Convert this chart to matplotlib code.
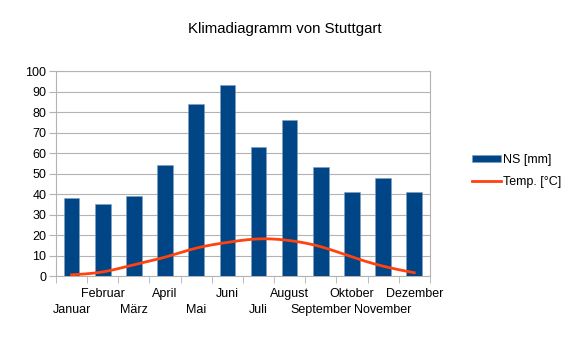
import numpy as np
import matplotlib.pyplot as plt

plt.rcParams['font.family'] = ['Liberation Sans', 'DejaVu Sans']

months = ["Januar", "Februar", "März", "April", "Mai", "Juni",
          "Juli", "August", "September", "Oktober", "November", "Dezember"]
rain = [38, 35, 39, 54, 84, 93, 63, 76, 53, 41, 48, 41]
temp = [0.6, 2.0, 5.5, 9.2, 13.6, 16.4, 18.1, 17.3, 14.3, 9.3, 4.8, 1.6]


# natural cubic spline just for drawing the smooth line
def smooth(xs, ys, n=300):
    xs = np.asarray(xs, float)
    ys = np.asarray(ys, float)
    k = len(xs)
    h = np.diff(xs)
    A = np.zeros((k, k))
    b = np.zeros(k)
    A[0, 0] = A[-1, -1] = 1
    for i in range(1, k - 1):
        A[i, i - 1] = h[i - 1]
        A[i, i] = 2 * (h[i - 1] + h[i])
        A[i, i + 1] = h[i]
        b[i] = 6 * ((ys[i + 1] - ys[i]) / h[i] - (ys[i] - ys[i - 1]) / h[i - 1])
    m = np.linalg.solve(A, b)
    xx = np.linspace(xs[0], xs[-1], n)
    j = np.clip(np.searchsorted(xs, xx) - 1, 0, k - 2)
    t0 = xs[j + 1] - xx
    t1 = xx - xs[j]
    hj = h[j]
    yy = (m[j] * t0 ** 3 + m[j + 1] * t1 ** 3) / (6 * hj) \
        + (ys[j] / hj - m[j] * hj / 6) * t0 + (ys[j + 1] / hj - m[j + 1] * hj / 6) * t1
    return xx, yy


fig = plt.figure(figsize=(5.69, 3.41), dpi=100)
ax = fig.add_axes([0.0984, 0.1906, 0.657, 0.601])

x = np.arange(len(months))
bars = ax.bar(x, rain, width=0.5, color='#004586', edgecolor='#7f9fc4', linewidth=0.4,
              label='NS [mm]', zorder=3)
sx, sy = smooth(x, temp)
line, = ax.plot(sx, sy, color='#ff420e', linewidth=2.0, label='Temp. [°C]', zorder=4)

ax.set_xlim(-0.5, 11.5)
ax.set_ylim(0, 100)
ax.set_yticks(range(0, 101, 10))
ax.yaxis.grid(True, color='#b3b3b3', linewidth=0.8, zorder=0)

ax.set_xticks(x)
ax.set_xticklabels(months)
ax.set_xticks(np.arange(-0.5, 12, 1), minor=True)
ax.tick_params(axis='x', which='major', length=0, labelsize=9)
ax.tick_params(axis='x', which='minor', length=5, color='#b3b3b3')
ax.tick_params(axis='y', length=5, color='#b3b3b3', labelsize=9, pad=2)
# staggered labels: Januar, März, ... on the lower row
for i, t in enumerate(ax.xaxis.get_major_ticks()):
    t.set_pad(8.5 if i % 2 else 20)
for s in ax.spines.values():
    s.set_color('#b3b3b3')

fig.text(0.5, 0.915, "Klimadiagramm von Stuttgart", ha='center', va='center', fontsize=10.8)

fig.legend([bars, line], ['NS [mm]', 'Temp. [°C]'], loc='center left',
           bbox_to_anchor=(0.81, 0.498), frameon=False,
           fontsize=9, handlelength=2.3, handleheight=0.5, handletextpad=0.2,
           labelspacing=0.8)

fig.savefig("out.png", dpi=100)
